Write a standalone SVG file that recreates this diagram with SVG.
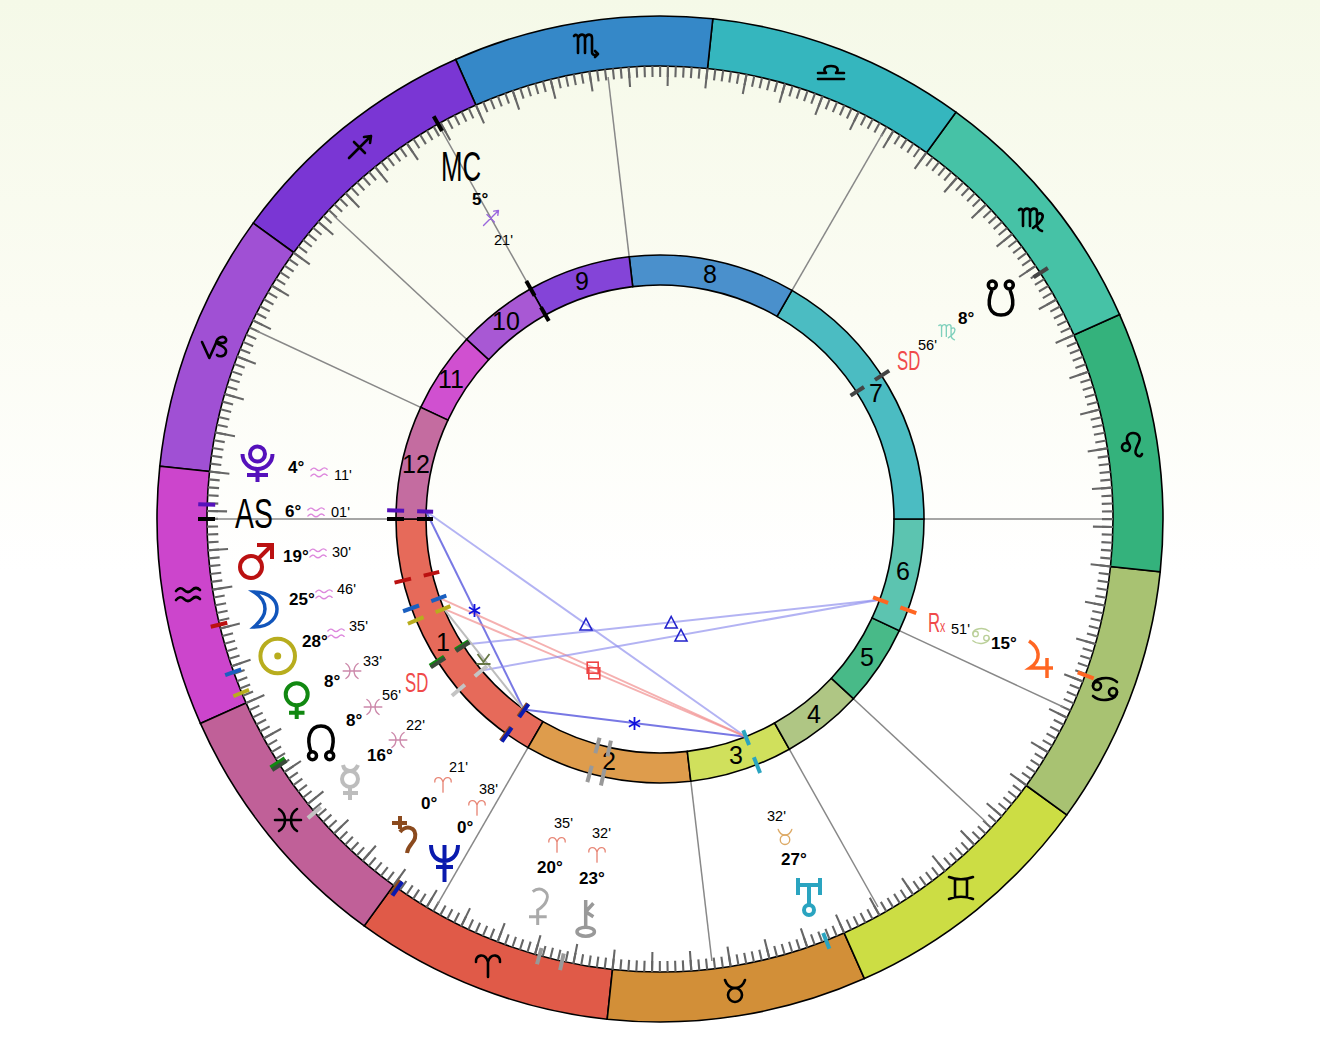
<svg xmlns="http://www.w3.org/2000/svg" width="1320" height="1040" viewBox="0 0 1320 1040">
<style>
text{font-family:"Liberation Sans",Arial,sans-serif;fill:#000}
.d{font-size:17px;font-weight:700}
.m{font-size:14.5px}
.h{font-size:25px;text-anchor:middle}
.big{font-size:43px}
.sd{font-size:27px;fill:#F04A4A}
.ring path{stroke:#000;stroke-width:1.6}
.cusp line{stroke:#888;stroke-width:1.5}
.sign{fill:none;stroke-linecap:round;stroke-linejoin:round}
.big-sign{stroke:#000;stroke-width:2.6}
.ic{fill:none;stroke-width:4}
.a1{stroke:#8C8CEE;stroke-width:2;opacity:.65}
.a2{stroke:#6A6AE2;stroke-width:2;opacity:.9}
.a3{stroke:#F29090;stroke-width:2;opacity:.7}
.a4{stroke:#BDBDBD;stroke-width:2}
.tri{fill:none;stroke:#2222CC;stroke-width:1.6}
.sq{fill:none;stroke:#EE4444;stroke-width:1.6}
.st{fill:none;stroke:#1111DD;stroke-width:1.8}
</style>
<defs>
<linearGradient id="bg" x1="0" y1="0" x2="0" y2="1">
<stop offset="0" stop-color="#F5F9E8"/><stop offset=".3" stop-color="#FBFCF3"/><stop offset=".55" stop-color="#FFFFFF"/>
</linearGradient>
<g id="mark" stroke-width="4"><line x1="1105" y1="519" x2="1122" y2="519"/><line x1="916" y1="519" x2="933" y2="519"/><line x1="887" y1="519" x2="903" y2="519"/></g>
<path id="tri" class="tri" d="M0 -6.500 L6 5 H-6 Z"/>
<path id="star" class="st" d="M0 -6.500 V6.500 M-5.600 -3.300 L5.600 3.300 M-5.600 3.300 L5.600 -3.300"/>
<g id="s-ari"><path d="M-12 -3 C-13 -10 -3 -13 0 -3 V12 M0 -3 C3 -13 13 -10 12 -3"/></g>
<g id="s-tau"><path d="M-10 -11 C-8 -5 -4 -3 0 -3 C4 -3 8 -5 10 -11"/><circle cx="0" cy="4" r="7"/></g>
<g id="s-gem"><path d="M-12 -11 C-5 -8 5 -8 12 -11 M-12 11 C-5 8 5 8 12 11 M-6 -9 V9 M6 -9 V9"/></g>
<g id="s-can"><circle cx="-8" cy="-3" r="4"/><circle cx="8" cy="3" r="4"/><path d="M-12 -3 C-12 -11 4 -14 12 -7 M12 3 C12 11 -4 14 -12 7"/></g>
<g id="s-leo"><circle cx="-6" cy="2" r="4"/><path d="M-3 -1 C-8 -8 -3 -12 1 -12 C6 -12 9 -8 7 -3 C5 2 2 6 4 9 C6 12 9 12 10 9"/></g>
<g id="s-vir"><path d="M-12 -8 C-10 -10 -8 -9 -8 -6 V8 M-8 -6 C-6 -11 -1 -10 -1 -6 V8 M-1 -6 C1 -11 6 -10 6 -6 V6 C6 10 8 12 11 13 M6 -3 C10 -7 13 -3 11 1 C10 4 6 7 2 10"/></g>
<g id="s-lib"><path d="M-13 7 H13 M-13 1 H-5 C-8 -2 -7 -6 0 -6 C7 -6 8 -2 5 1 H13"/></g>
<g id="s-sco"><path d="M-12 -9 C-10 -11 -8 -10 -8 -7 V8 M-8 -7 C-6 -12 -1 -11 -1 -7 V8 M-1 -7 C1 -12 6 -11 6 -7 V7 C6 10 9 11 12 9 L9 6 M12 9 L9 12"/></g>
<g id="s-sag"><path d="M-11 11 L11 -11 M4 -10 L11 -11 L10 -4 M-6 -5 L5 6"/></g>
<g id="s-cap"><path d="M-12 -5 L-4.700 11 L2 -4 C3 -10 10 -12 12 -8 C13 -4 8 -3 4 -5 M4 -3 C7 -1 13 0 12 5 C11 10 5 10 3 8"/></g>
<g id="s-aqu"><path d="M-12 -3 Q-8 -8 -4 -4 T4 -4 T12 -4 M-12 6 Q-8 1 -4 5 T4 5 T12 5"/></g>
<g id="s-pis"><path d="M-9 -11 C-1 -6 -1 6 -9 11 M9 -11 C1 -6 1 6 9 11 M-13 0 H13"/></g>
</defs>

<rect id="background" width="1320" height="1040" fill="url(#bg)"/>

<g id="zodiac-ring" class="ring">
<path fill="#E05A48" d="M364.200 925.900 A503 503 0 0 0 607.200 1019.200 L612.500 969.500 A453 453 0 0 1 393.600 885.400 Z"/>
<path fill="#D28F38" d="M607.200 1019.200 A503 503 0 0 0 864.400 978.600 L844.100 932.900 A453 453 0 0 1 612.500 969.500 Z"/>
<path fill="#CCDD44" d="M864.400 978.600 A503 503 0 0 0 1066.800 814.900 L1026.300 785.500 A453 453 0 0 1 844.100 932.900 Z"/>
<path fill="#A8C272" d="M1066.800 814.900 A503 503 0 0 0 1160.200 571.800 L1110.500 566.500 A453 453 0 0 1 1026.300 785.500 Z"/>
<path fill="#34B27C" d="M1160.200 571.800 A503 503 0 0 0 1119.600 314.600 L1073.900 334.900 A453 453 0 0 1 1110.500 566.500 Z"/>
<path fill="#46C2A6" d="M1119.600 314.600 A503 503 0 0 0 955.900 112.200 L926.500 152.700 A453 453 0 0 1 1073.900 334.900 Z"/>
<path fill="#35B6BE" d="M955.900 112.200 A503 503 0 0 0 712.800 18.800 L707.500 68.500 A453 453 0 0 1 926.500 152.700 Z"/>
<path fill="#3588C8" d="M712.800 18.800 A503 503 0 0 0 455.600 59.400 L475.900 105.100 A453 453 0 0 1 707.500 68.500 Z"/>
<path fill="#7A36D4" d="M455.600 59.400 A503 503 0 0 0 253.200 223.100 L293.700 252.500 A453 453 0 0 1 475.900 105.100 Z"/>
<path fill="#A050D4" d="M253.200 223.100 A503 503 0 0 0 159.800 466.200 L209.500 471.500 A453 453 0 0 1 293.700 252.500 Z"/>
<path fill="#CC45CC" d="M159.800 466.200 A503 503 0 0 0 200.400 723.400 L246.100 703.100 A453 453 0 0 1 209.500 471.500 Z"/>
<path fill="#C06098" d="M200.400 723.400 A503 503 0 0 0 364.200 925.900 L393.600 885.400 A453 453 0 0 1 246.100 703.100 Z"/>
</g>

<g id="degree-ticks" fill="none" stroke="#666">
<circle cx="660" cy="519" r="447.500" stroke-width="11" pathLength="360" stroke-dasharray="0.27 0.73" stroke-dashoffset="0.115"/>
<circle cx="660" cy="519" r="443" stroke-width="20" pathLength="360" stroke-dasharray="0.27 4.73" stroke-dashoffset="-0.885"/>
</g>

<g id="zodiac-signs" class="sign big-sign">
<use href="#s-ari" x="488" y="965"/>
<use href="#s-tau" x="735" y="991"/>
<use href="#s-gem" x="961" y="888"/>
<use href="#s-can" x="1105" y="689"/>
<use href="#s-leo" x="1132" y="445"/>
<use href="#s-vir" x="1031" y="218"/>
<use href="#s-lib" x="831" y="72"/>
<use href="#s-sco" x="586" y="45"/>
<use href="#s-sag" x="360" y="147"/>
<use href="#s-cap" x="214" y="347"/>
<use href="#s-aqu" x="188" y="594"/>
<use href="#s-pis" x="288" y="820"/>
</g>

<g id="house-cusps" class="cusp">
<line x1="396" y1="519" x2="207" y2="519"/>
<line x1="528" y1="747.600" x2="437.500" y2="904.400"/>
<line x1="690.800" y1="781.200" x2="711.900" y2="961"/>
<line x1="789.300" y1="749.200" x2="878" y2="907"/>
<line x1="853.400" y1="698.700" x2="986" y2="822"/>
<line x1="899.300" y1="630.600" x2="1063.300" y2="707"/>
<line x1="924" y1="519" x2="1102" y2="519"/>
<line x1="792" y1="290.400" x2="882.500" y2="133.600"/>
<line x1="629.200" y1="256.800" x2="608.100" y2="77"/>
<line x1="530.700" y1="288.800" x2="438.100" y2="124.100"/>
<line x1="466.600" y1="339.300" x2="334" y2="216"/>
<line x1="420.700" y1="407.400" x2="256.700" y2="331"/>
</g>

<g id="house-ring" class="ring">
<path fill="#E66A5A" d="M396 519 A264 264 0 0 0 528 747.600 L543 721.600 A234 234 0 0 1 426 519 Z"/>
<path fill="#DE9C4C" d="M528 747.600 A264 264 0 0 0 690.800 781.200 L687.300 751.400 A234 234 0 0 1 543 721.600 Z"/>
<path fill="#D0E05C" d="M690.800 781.200 A264 264 0 0 0 789.300 749.200 L774.600 723 A234 234 0 0 1 687.300 751.400 Z"/>
<path fill="#AFC684" d="M789.300 749.200 A264 264 0 0 0 853.400 698.700 L831.400 678.300 A234 234 0 0 1 774.600 723 Z"/>
<path fill="#48BA88" d="M853.400 698.700 A264 264 0 0 0 899.300 630.600 L872.100 617.900 A234 234 0 0 1 831.400 678.300 Z"/>
<path fill="#5CC4B0" d="M899.300 630.600 A264 264 0 0 0 924 519 L894 519 A234 234 0 0 1 872.100 617.900 Z"/>
<path fill="#4BBCC2" d="M924 519 A264 264 0 0 0 792 290.400 L777 316.400 A234 234 0 0 1 894 519 Z"/>
<path fill="#4A90CC" d="M792 290.400 A264 264 0 0 0 629.200 256.800 L632.700 286.600 A234 234 0 0 1 777 316.400 Z"/>
<path fill="#8444D8" d="M629.200 256.800 A264 264 0 0 0 530.700 288.800 L545.400 315 A234 234 0 0 1 632.700 286.600 Z"/>
<path fill="#A858D4" d="M530.700 288.800 A264 264 0 0 0 466.600 339.300 L488.600 359.700 A234 234 0 0 1 545.400 315 Z"/>
<path fill="#D050D0" d="M466.600 339.300 A264 264 0 0 0 420.700 407.400 L447.900 420.100 A234 234 0 0 1 488.600 359.700 Z"/>
<path fill="#C46CA0" d="M420.700 407.400 A264 264 0 0 0 396 519 L426 519 A234 234 0 0 1 447.900 420.100 Z"/>
</g>

<g id="house-numbers">
<text class="h" x="443" y="651">1</text>
<text class="h" x="609" y="770">2</text>
<text class="h" x="736" y="764">3</text>
<text class="h" x="814" y="723">4</text>
<text class="h" x="867" y="666">5</text>
<text class="h" x="903" y="580">6</text>
<text class="h" x="876" y="402">7</text>
<text class="h" x="710" y="283">8</text>
<text class="h" x="582" y="290">9</text>
<text class="h" x="506" y="330">10</text>
<text class="h" x="451" y="388">11</text>
<text class="h" x="416" y="473">12</text>
</g>

<g id="connectors">
<line class="a1" x1="426.100" y1="511.500" x2="745.700" y2="736.700"/>
<line class="a2" x1="426.100" y1="511.500" x2="523.700" y2="709.500"/>
<line class="a2" x1="523.700" y1="709.500" x2="745.700" y2="736.700"/>
<line class="a3" x1="439.800" y1="598.100" x2="745.700" y2="736.700"/>
<line class="a3" x1="443.900" y1="608.800" x2="745.700" y2="736.700"/>
<line class="a1" x1="879.700" y1="599.700" x2="462.700" y2="644.800"/>
<line class="a1" x1="879.700" y1="599.700" x2="481.600" y2="670.500"/>
<line class="a4" x1="443.900" y1="608.800" x2="523.700" y2="709.500"/>
<use href="#tri" x="586" y="625"/>
<use href="#tri" x="671.200" y="623"/>
<use href="#tri" x="681" y="636"/>
<use href="#star" x="474.500" y="610.500"/>
<use href="#star" x="634.500" y="723.500"/>
<rect class="sq" x="587.200" y="662.200" width="11" height="11"/>
<rect class="sq" x="588.800" y="667.800" width="11" height="11"/>
<path d="M477.500 654 L483.500 662 L489.500 654 M483.500 662 V664 M476.500 664 H490.500" fill="none" stroke="#667744" stroke-width="1.800"/>
</g>

<g id="markers">
<use href="#mark" stroke="#5511BB" transform="rotate(-178.16 660 519)"/>
<use href="#mark" stroke="#000000" transform="rotate(-180 660 519)"/>
<use href="#mark" stroke="#BB1111" transform="rotate(-193.48 660 519)"/>
<use href="#mark" stroke="#1A5FC0" transform="rotate(-199.75 660 519)"/>
<use href="#mark" stroke="#B8AD1E" transform="rotate(-202.56 660 519)"/>
<use href="#mark" stroke="#118811" transform="rotate(-212.53 660 519)"/>
<use href="#mark" stroke="#3A4A3A" transform="rotate(-212.91 660 519)"/>
<use href="#mark" stroke="#C4C4C4" transform="rotate(-220.35 660 519)"/>
<use href="#mark" stroke="#8B4A1E" transform="rotate(-234.33 660 519)"/>
<use href="#mark" stroke="#0A1AAE" transform="rotate(-234.61 660 519)"/>
<use href="#mark" stroke="#999999" transform="rotate(-254.56 660 519)"/>
<use href="#mark" stroke="#999999" transform="rotate(-257.51 660 519)"/>
<use href="#mark" stroke="#2AA4C0" transform="rotate(-291.51 660 519)"/>
<use href="#mark" stroke="#FF6622" transform="rotate(20.17 660 519)"/>
<use href="#mark" stroke="#444444" transform="rotate(-32.91 660 519)"/>
<use href="#mark" stroke="#000000" transform="rotate(-119.33 660 519)"/>
</g>

<g id="pluto">
<g class="ic" stroke="#5511BB"><circle cx="257.500" cy="454" r="7.500"/><path d="M242.500 454 A15 15 0 0 0 272.500 454 M257.500 469 V482 M247 475 H268"/></g>
<text class="d" x="288" y="473">4°</text>
<use href="#s-aqu" class="sign" stroke="#DD88DD" stroke-width="2" transform="translate(319 472) scale(.68)"/>
<text class="m" x="334" y="480">11'</text>
</g>
<g id="ascendant">
<text class="big" transform="translate(235 528) scale(.66 1)">AS</text>
<text class="d" x="285" y="517">6°</text>
<use href="#s-aqu" class="sign" stroke="#DD88DD" stroke-width="2" transform="translate(316 512) scale(.68)"/>
<text class="m" x="331" y="517">01'</text>
</g>
<g id="mars">
<g class="ic" stroke="#BB1111"><circle cx="251" cy="567" r="11"/><path d="M259 558 L272 545 M257 545 H272 V559"/></g>
<text class="d" x="283" y="562">19°</text>
<use href="#s-aqu" class="sign" stroke="#DD88DD" stroke-width="2" transform="translate(318 553) scale(.68)"/>
<text class="m" x="332" y="557">30'</text>
</g>
<g id="moon">
<path class="ic" stroke="#1155BB" style="stroke-width:3.500px" d="M254 592 C272 592 277 603 277 609 C277 616 272 627 254 627 C262 620 265 614 265 609 C265 603 262 597 254 592 Z"/>
<text class="d" x="289" y="605">25°</text>
<use href="#s-aqu" class="sign" stroke="#DD88DD" stroke-width="2" transform="translate(324 594) scale(.68)"/>
<text class="m" x="337" y="594">46'</text>
</g>
<g id="sun">
<circle class="ic" stroke="#B8AD1E" cx="277.700" cy="656" r="17.300"/><circle cx="277.700" cy="656" r="3.500" fill="#B8AD1E"/>
<text class="d" x="302" y="647">28°</text>
<use href="#s-aqu" class="sign" stroke="#DD88DD" stroke-width="2" transform="translate(336 633) scale(.68)"/>
<text class="m" x="349" y="631">35'</text>
</g>
<g id="venus">
<g class="ic" stroke="#118811"><circle cx="296.700" cy="694.300" r="11"/><path d="M296.700 705 V719 M289 712.700 H304.500"/></g>
<text class="d" x="324" y="687">8°</text>
<use href="#s-pis" class="sign" stroke="#CC88AA" stroke-width="2" transform="translate(352 671) scale(.68)"/>
<text class="m" x="363" y="666">33'</text>
</g>
<g id="north-node">
<g class="ic" stroke="#000" style="stroke-width:3.500px"><path d="M311 752 C306 738 310 726 321 726 C332 726 336 738 331 752"/><circle cx="312.500" cy="755.700" r="4"/><circle cx="329.700" cy="755.700" r="4"/></g>
<text class="sd" transform="translate(405 692) scale(.62 1)">SD</text>
<text class="d" x="346" y="726">8°</text>
<use href="#s-pis" class="sign" stroke="#CC88AA" stroke-width="2" transform="translate(373 707) scale(.68)"/>
<text class="m" x="382" y="700">56'</text>
</g>
<g id="mercury">
<g class="ic" stroke="#BDBDBD"><circle cx="350" cy="779" r="8"/><path d="M343 765 C344 770 347 771 350 771 C353 771 356 770 358 765 M350 787 V800 M343 793 H358"/></g>
<text class="d" x="367" y="761">16°</text>
<use href="#s-pis" class="sign" stroke="#CC88AA" stroke-width="2" transform="translate(398 740) scale(.68)"/>
<text class="m" x="406" y="730">22'</text>
</g>
<g id="saturn">
<path class="ic" stroke="#8B4A1E" d="M400 816 V829 M392 823 H407 M400 832 C405 825 417 826 415 838 C414 843 408 845 407 853"/>
<text class="d" x="421" y="809">0°</text>
<use href="#s-ari" class="sign" stroke="#E88878" stroke-width="2" transform="translate(443 784) scale(.68)"/>
<text class="m" x="449" y="772">21'</text>
</g>
<g id="neptune">
<path class="ic" stroke="#0A1AAE" d="M431 845 C431 857 438 861 444 861 C450 861 458 857 458 845 M444.500 845 V882 M436 867 H453"/>
<text class="d" x="457" y="833">0°</text>
<use href="#s-ari" class="sign" stroke="#E88878" stroke-width="2" transform="translate(477 807) scale(.68)"/>
<text class="m" x="479" y="794">38'</text>
</g>
<g id="ceres">
<path class="ic" stroke="#AAAAAA" style="stroke-width:3px" d="M532.700 891.700 C541 885 550 893 546.700 900 C545 905 541 908 537.700 910 V925 M529 916.700 H546.700"/>
<text class="d" x="537" y="873">20°</text>
<use href="#s-ari" class="sign" stroke="#E88878" stroke-width="2" transform="translate(557 844) scale(.68)"/>
<text class="m" x="554" y="828">35'</text>
</g>
<g id="chiron">
<g class="ic" stroke="#999999" style="stroke-width:3.500px"><path d="M585.700 900 V927 M585.700 911.700 L593.400 903.300 M585.700 911.700 L593.400 916.700"/><ellipse cx="585.700" cy="931.700" rx="8.700" ry="4.500"/></g>
<text class="d" x="579" y="884">23°</text>
<use href="#s-ari" class="sign" stroke="#E88878" stroke-width="2" transform="translate(597 854) scale(.68)"/>
<text class="m" x="592" y="838">32'</text>
</g>
<g id="uranus">
<g class="ic" stroke="#2AA4C0"><path d="M798 878 V895 M820 878 V895 M798 885 H820 M809 885 V905"/><circle cx="809" cy="910" r="5"/></g>
<text class="d" x="781" y="865">27°</text>
<use href="#s-tau" class="sign" stroke="#DDAA66" stroke-width="2" transform="translate(785 837) scale(.68)"/>
<text class="m" x="767" y="821">32'</text>
</g>
<g id="jupiter">
<path class="ic" stroke="#FF6622" style="stroke-width:3.500px" d="M1029 641 C1040 648 1042 660 1030 668 H1053 M1047 658 V678"/>
<text class="sd" transform="translate(928 632) scale(.62 1)">R<tspan font-size="17">x</tspan></text>
<text class="d" x="991" y="649">15°</text>
<use href="#s-can" class="sign" stroke="#BBD09A" stroke-width="2" transform="translate(981 636) scale(.68)"/>
<text class="m" x="951" y="634">51'</text>
</g>
<g id="south-node">
<g class="ic" stroke="#000" style="stroke-width:3.500px"><path d="M992 290 C986 305 990 315 1001 315 C1012 315 1016 305 1010 290"/><circle cx="992.300" cy="285" r="4"/><circle cx="1009.300" cy="285" r="4"/></g>
<text class="sd" transform="translate(897 370) scale(.62 1)">SD</text>
<text class="d" x="958" y="324">8°</text>
<use href="#s-vir" class="sign" stroke="#7FD0BC" stroke-width="2" transform="translate(947 331) scale(.68)"/>
<text class="m" x="918" y="350">56'</text>
</g>
<g id="midheaven">
<text class="big" transform="translate(441 181) scale(.6 1)">MC</text>
<text class="d" x="472" y="205">5°</text>
<use href="#s-sag" class="sign" stroke="#9966DD" stroke-width="2" transform="translate(491 218) scale(.68)"/>
<text class="m" x="494" y="245">21'</text>
</g>
</svg>
